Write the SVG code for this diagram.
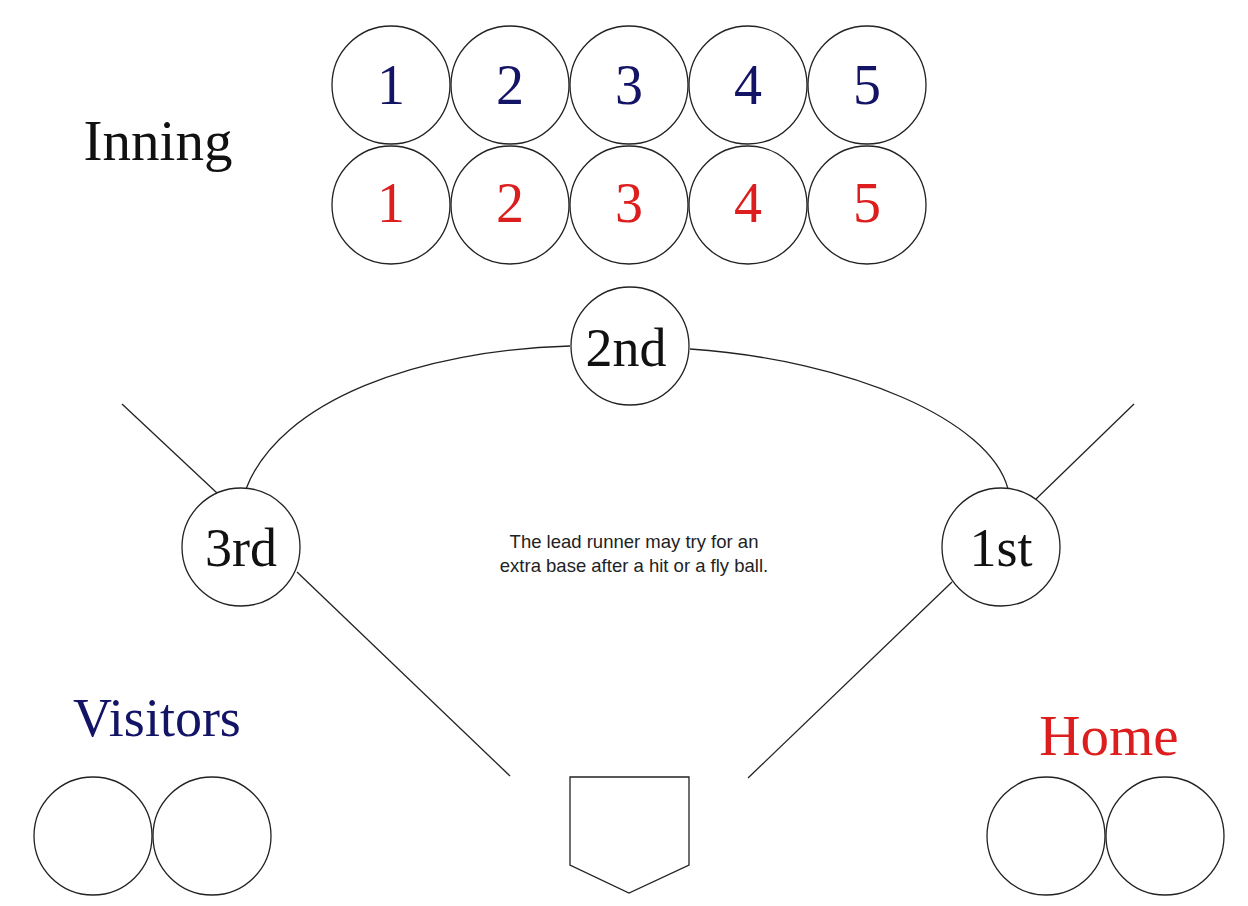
<svg xmlns="http://www.w3.org/2000/svg" width="1248" height="906" viewBox="0 0 1248 906">
<style>
.c{fill:#fff;stroke:#222;stroke-width:1.3}
.l{fill:none;stroke:#222;stroke-width:1.3}
.s{font-family:"Liberation Serif",serif;text-anchor:middle}
.b{fill:#141466}
.r{fill:#dc1e1e}
.k{fill:#111}
.d{font-size:56px}
.note{font-family:"Liberation Sans",Arial,sans-serif;font-size:18.5px;fill:#222;text-anchor:middle}
</style>
<rect width="1248" height="906" fill="#fff"/>
<g id="connectors">
<path class="l" d="M246,489 C280,400 420,350 570,346"/>
<path class="l" d="M690,349 C850,360 990,420 1008,489"/>
<line class="l" x1="122" y1="404" x2="217" y2="493"/>
<line class="l" x1="297" y1="572" x2="510" y2="776"/>
<line class="l" x1="1036" y1="499" x2="1134" y2="404"/>
<line class="l" x1="952" y1="582" x2="748" y2="778"/>
</g>
<g id="inning-label"><text class="s k" x="158" y="160" font-size="57">Inning</text></g>
<g id="visitor-innings">
<circle class="c" cx="391" cy="85" r="59"/><text class="s b d" x="391" y="104">1</text>
<circle class="c" cx="510" cy="85" r="59"/><text class="s b d" x="510" y="104">2</text>
<circle class="c" cx="629" cy="85" r="59"/><text class="s b d" x="629" y="104">3</text>
<circle class="c" cx="748" cy="85" r="59"/><text class="s b d" x="748" y="104">4</text>
<circle class="c" cx="867" cy="85" r="59"/><text class="s b d" x="867" y="104">5</text>
</g>
<g id="home-innings">
<circle class="c" cx="391" cy="205" r="59"/><text class="s r d" x="391" y="222">1</text>
<circle class="c" cx="510" cy="205" r="59"/><text class="s r d" x="510" y="222">2</text>
<circle class="c" cx="629" cy="205" r="59"/><text class="s r d" x="629" y="222">3</text>
<circle class="c" cx="748" cy="205" r="59"/><text class="s r d" x="748" y="222">4</text>
<circle class="c" cx="867" cy="205" r="59"/><text class="s r d" x="867" y="222">5</text>
</g>
<g id="second"><circle class="c" cx="630" cy="346" r="59"/><text class="s k" x="626" y="366" font-size="54">2nd</text></g>
<g id="third"><circle class="c" cx="241" cy="547" r="59"/><text class="s k" x="241" y="566" font-size="54">3rd</text></g>
<g id="first"><circle class="c" cx="1001" cy="547" r="59"/><text class="s k" x="1001" y="566" font-size="54">1st</text></g>
<g id="note"><text class="note" x="634" y="548">The lead runner may try for an</text><text class="note" x="634" y="572">extra base after a hit or a fly ball.</text></g>
<g id="home-plate"><polygon class="l" points="570,777 689,777 689,865 629,893 570,865"/></g>
<g id="visitors"><text class="s b" x="157" y="736" font-size="54">Visitors</text>
<circle class="c" cx="93" cy="836" r="59"/><circle class="c" cx="212" cy="836" r="59"/></g>
<g id="home"><text class="s r" x="1109" y="755" font-size="57">Home</text>
<circle class="c" cx="1046" cy="836" r="59"/><circle class="c" cx="1165" cy="836" r="59"/></g>
</svg>
